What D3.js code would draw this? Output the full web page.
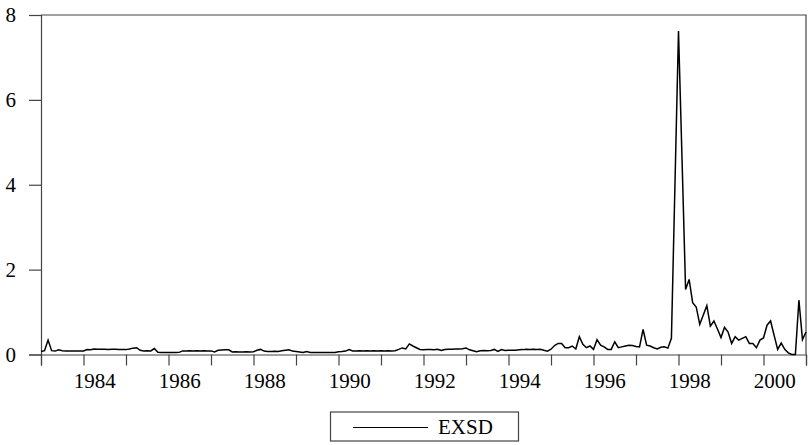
<!DOCTYPE html>
<html lang="en">
<head>
    <meta charset="UTF-8">
    <title>EXSD</title>
    <script src="https://d3js.org/d3.v7.min.js"></script>
    <style>
      body { margin: 0; background: white; }
      text { font-family: "Liberation Serif", "DejaVu Serif", serif; fill: black; }
    </style>
</head>
<body>
  <script>
      // monthly series, first observation 1983M01
      var startYear = 1983;
      var exsd = [
        0.07,0.09,0.34,0.09,0.08,0.11,0.09,0.08,0.085,0.08,0.085,0.08,
        0.085,0.115,0.11,0.13,0.125,0.125,0.125,0.12,0.125,0.125,0.12,0.12,
        0.115,0.13,0.15,0.16,0.1,0.085,0.09,0.085,0.14,0.05,0.045,0.05,
        0.045,0.05,0.045,0.05,0.085,0.085,0.09,0.085,0.09,0.085,0.09,0.085,
        0.085,0.06,0.1,0.105,0.11,0.11,0.06,0.065,0.06,0.06,0.065,0.06,
        0.065,0.1,0.12,0.08,0.07,0.07,0.075,0.07,0.09,0.1,0.11,0.08,
        0.07,0.06,0.045,0.07,0.045,0.045,0.05,0.045,0.05,0.045,0.05,0.05,
        0.065,0.07,0.08,0.115,0.085,0.085,0.09,0.085,0.09,0.085,0.09,0.085,
        0.09,0.085,0.09,0.085,0.09,0.12,0.155,0.13,0.25,0.2,0.16,0.12,
        0.11,0.12,0.115,0.11,0.125,0.095,0.12,0.125,0.125,0.13,0.13,0.135,
        0.155,0.11,0.09,0.065,0.09,0.095,0.09,0.095,0.12,0.075,0.115,0.095,
        0.1,0.1,0.1,0.11,0.115,0.125,0.12,0.125,0.12,0.125,0.1,0.08,
        0.125,0.21,0.26,0.26,0.16,0.16,0.2,0.13,0.42,0.24,0.16,0.2,
        0.12,0.35,0.22,0.18,0.12,0.12,0.3,0.16,0.18,0.2,0.22,0.21,
        0.19,0.18,0.59,0.22,0.2,0.16,0.13,0.17,0.18,0.15,0.38,4.0,
        7.62,4.6,1.53,1.77,1.22,1.12,0.71,0.93,1.15,0.67,0.79,0.6,
        0.4,0.64,0.53,0.26,0.42,0.34,0.38,0.42,0.26,0.26,0.16,0.34,
        0.39,0.69,0.79,0.45,0.12,0.27,0.12,0.04,0.0,0.0,1.28,0.35,
        0.53
      ];
      var yTicks = [0, 2, 4, 6, 8];
      var yearLabels = ["1984","1986","1988","1990","1992","1994","1996","1998","2000"];
      var seriesName = "EXSD";

      var width = 809, height = 445;
      var m = {l: 41, r: 806, t: 15, b: 354.5};

      var svg = d3.select('body').append('svg')
                  .attr('width', width).attr('height', height);

      var x = d3.scaleLinear().domain([0, exsd.length - 1]).range([m.l, m.r]);
      var y = d3.scaleLinear().domain([0, 8]).range([m.b, m.t]);

      // frame (top and right)
      svg.append('path')
         .attr('d', 'M' + m.l + ',' + m.t + 'H' + m.r + 'V' + m.b)
         .attr('fill', 'none').attr('stroke', '#444').attr('stroke-width', 1.2);

      var yAxis = svg.append('g').attr('transform', 'translate(' + m.l + ',0)')
          .call(d3.axisLeft(y).tickValues(yTicks).tickSize(12).tickPadding(13)
                  .tickFormat(d3.format('d')));
      yAxis.select('.domain').attr('stroke', '#444').attr('stroke-width', 1.2);
      yAxis.selectAll('.tick line').attr('stroke', '#444').attr('stroke-width', 1.2);
      yAxis.selectAll('text').style('font-size', '21px');

      // yearly tick marks, one every 12 observations
      var tickIdx = d3.range(0, exsd.length, 12);
      var xAxis = svg.append('g').attr('transform', 'translate(0,' + m.b + ')')
          .call(d3.axisBottom(x).tickValues(tickIdx).tickSize(11).tickFormat(''));
      xAxis.select('.domain').attr('stroke', '#444').attr('stroke-width', 1.2);
      xAxis.selectAll('.tick line').attr('stroke', '#444').attr('stroke-width', 1.2);

      // year labels
      var labelIdx = yearLabels.map(function (s) { return (+s - startYear) * 12 + 3; });
      var xLab = svg.append('g').attr('transform', 'translate(0,' + m.b + ')')
          .call(d3.axisBottom(x).tickValues(labelIdx).tickSize(0).tickPadding(19)
                  .tickFormat(function (d, i) { return yearLabels[i]; }));
      xLab.select('.domain').remove();
      xLab.selectAll('text').style('font-size', '21px');

      svg.selectAll('.tick text').attr('fill', 'black')
         .style('font-family', '"Liberation Serif", "DejaVu Serif", serif');

      var line = d3.line().x(function (d, i) { return x(i); }).y(function (d) { return y(d); });
      svg.append('path').datum(exsd)
         .attr('d', line).attr('fill', 'none')
         .attr('stroke', 'black').attr('stroke-width', 1.5)
         .attr('stroke-linejoin', 'miter');

      // legend
      var lg = svg.append('g');
      lg.append('rect').attr('x', 330.5).attr('y', 412).attr('width', 188).attr('height', 29)
        .attr('fill', 'white').attr('stroke', '#444').attr('stroke-width', 1.2);
      lg.append('line').attr('x1', 353).attr('x2', 428).attr('y1', 427.5).attr('y2', 427.5)
        .attr('stroke', 'black').attr('stroke-width', 1.2);
      lg.append('text').attr('x', 438).attr('y', 433.5).style('font-size', '21px').text(seriesName);
  </script>
</body>
</html>
